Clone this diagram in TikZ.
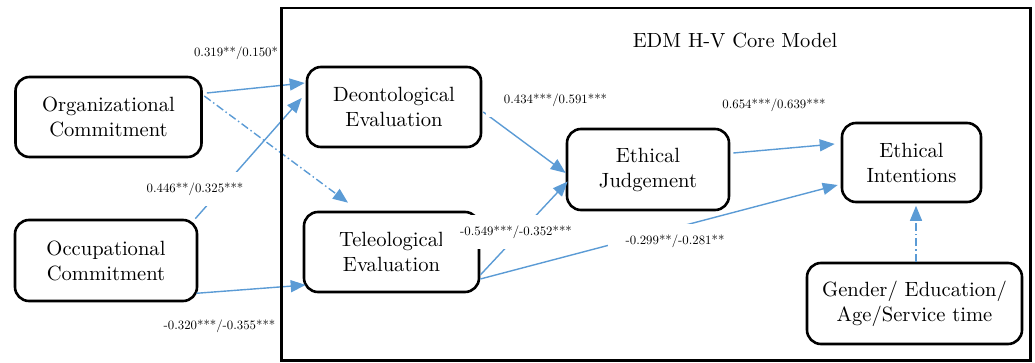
\documentclass[tikz,border=0pt]{standalone}
\usepackage{fontspec}
\setmainfont{lmroman10}[Extension=.otf,UprightFont=*-regular,BoldFont=*-bold,ItalicFont=*-italic]
\usetikzlibrary{arrows.meta}
\definecolor{arrblue}{HTML}{5B9BD5}
\begin{document}
\begin{tikzpicture}[x=1pt,y=-1pt,
  box/.style={draw=black,line width=2.6pt,rounded corners=14pt,align=center,inner sep=0pt,font=\fontsize{20.6}{25}\selectfont},
  conn/.style={draw=arrblue,line width=1.4pt,-{Triangle[length=15pt,width=12pt]}},
  dashconn/.style={conn,dash pattern=on 8pt off 3pt on 1.5pt off 3pt},
  lbl/.style={fill=white,inner xsep=18pt,inner ysep=11pt,font=\fontsize{12.8}{15}\selectfont},
]
\useasboundingbox (0,0) rectangle (1035,363);
% boxes
\node[box,minimum width=186pt,minimum height=80pt] (org) at (108.5,117) {Organizational\\Commitment};
\node[box,minimum width=182pt,minimum height=81pt] (occ) at (106,260.5) {Occupational\\Commitment};
\node[box,minimum width=174pt,minimum height=80pt] (deo) at (394,107) {Deontological\\Evaluation};
\node[box,minimum width=175pt,minimum height=80pt] (tel) at (391.5,252) {Teleological\\Evaluation};
\node[box,minimum width=162pt,minimum height=81pt] (jud) at (648,169.5) {Ethical\\Judgement};
\node[box,minimum width=139pt,minimum height=79pt] (int) at (911.5,162.5) {Ethical\\Intentions};
\node[box,minimum width=215pt,minimum height=81pt] (gen) at (914.5,303.5) {Gender/ Education/\\Age/Service time};
% connectors
\draw[conn] ([xshift=4pt,yshift=24pt]org.east) -- ([xshift=-1pt,yshift=24pt]deo.west);
\draw[conn] ([xshift=-3pt]occ.north east) -- ([xshift=-4pt,yshift=9pt]deo.west);
\draw[dashconn] ([xshift=1.5pt,yshift=21pt]org.east) -- ([xshift=-43.5pt,yshift=8pt]tel.north);
\draw[conn] ([xshift=-2pt,yshift=9pt]occ.south east) -- ([xshift=3pt,yshift=-33pt]tel.west);
\draw[conn] ([xshift=1pt,yshift=-5pt]deo.east) -- ([yshift=-3.5pt]jud.west);
\draw[conn] ([yshift=-23pt]tel.east) -- ([xshift=2pt,yshift=-12pt]jud.west);
\draw[conn] ([yshift=-27pt]tel.east) -- ([xshift=-3pt,yshift=-22.5pt]int.west);
\draw[conn] ([xshift=3pt,yshift=16.5pt]jud.east) -- ([xshift=-6pt,yshift=18.5pt]int.west);
\draw[dashconn] ([xshift=1.5pt]gen.north) -- ([xshift=4.5pt,yshift=-2.5pt]int.south);
% labels
\node[lbl] (l1) at (236,53) {0.319**/0.150*};
\node[lbl] (l2) at (195,189) {0.446**/0.325***};
\node[lbl] (l3) at (219.5,326) {-0.320***/-0.355***};
\node[lbl] (l4) at (555.5,100) {0.434***/0.591***};
\node[lbl] (l5) at (774,105) {0.654***/0.639***};
\node[lbl] (l6) at (516,232) {-0.549***/-0.352***};
\node[lbl] (l7) at (675,241) {-0.299**/-0.281**};
% frame and title
\node[draw=black,line width=2.6pt,inner sep=0pt,minimum width=749pt,minimum height=352.5pt] (frame) at (655.75,184.25) {};
\node[font=\fontsize{20.5}{25}\selectfont] (title) at (735,41) {EDM H-V Core Model};
\end{tikzpicture}
\end{document}
